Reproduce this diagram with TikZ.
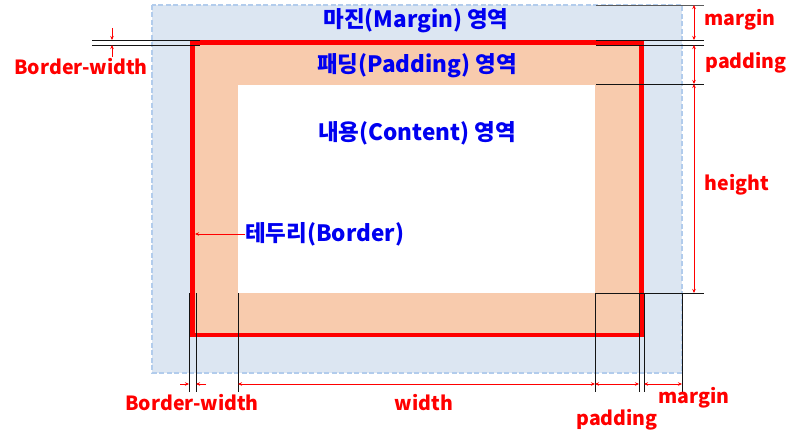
\documentclass[tikz,border=0pt]{standalone}
\usepackage{fontspec}
\setmainfont{Noto Sans CJK KR}
\usetikzlibrary{arrows.meta}
\definecolor{marginfill}{RGB}{220,230,242}
\definecolor{margindash}{RGB}{178,204,236}
\definecolor{padfill}{RGB}{248,203,173}
\definecolor{bordred}{RGB}{255,0,0}
\definecolor{areablue}{RGB}{0,0,240}
\definecolor{dimgrey}{RGB}{20,20,20}
\tikzset{
  dimline/.style={dimgrey, line width=0.9pt},
  dimarrow/.style={bordred, line width=0.8pt, {Stealth[length=4pt,width=3.5pt]}-{Stealth[length=4pt,width=3.5pt]}},
  onearrow/.style={bordred, line width=0.8pt, -{Stealth[length=4pt,width=3.5pt]}},
  redlbl/.style={text=bordred, inner sep=0pt, font=\bfseries\fontsize{19.5}{21}\selectfont},
  bluelbl/.style={text=areablue, inner sep=0pt, font=\bfseries\fontsize{22.5}{24}\selectfont},
}
\begin{document}
\begin{tikzpicture}[x=1pt,y=-1pt]
\useasboundingbox (0,0) rectangle (800,444);
% areas
\fill[marginfill] (152,5) rectangle (682,373);
\draw[margindash, line width=1.6pt, dash pattern=on 5pt off 2.5pt] (152,5) rectangle (682,373);
\fill[padfill] (192.5,42.5) rectangle (641.5,335);
\fill[white] (238,85) rectangle (595,293);
\draw[bordred, line width=4.5pt] (192.5,42.5) rectangle (641.5,335);

% coordinates
\coordinate (tlA) at (92,40);  \coordinate (tlB) at (200,40);
\coordinate (tlC) at (92,45);  \coordinate (tlD) at (200,45);
\coordinate (trA) at (596,5);  \coordinate (trB) at (704,5);
\coordinate (trC) at (596,40); \coordinate (trD) at (704,40);
\coordinate (trE) at (596,45); \coordinate (trF) at (704,45);
\coordinate (trG) at (596,84); \coordinate (trH) at (704,84);
\coordinate (trI) at (595,293); \coordinate (trJ) at (704,293);
\foreach \x/\n in {189/a,196/b,238/c,595/d,639/e,644/f,682/g}{
  \coordinate (v\n1) at (\x,293);
  \coordinate (v\n2) at (\x,392);
}
% black extension lines
\draw[dimline] (tlA) -- (tlB);
\draw[dimline] (tlC) -- (tlD);
\draw[dimline, dimgrey!70] (trA) -- (trB);
\draw[dimline] (trC) -- (trD);
\draw[dimline] (trE) -- (trF);
\draw[dimline] (trG) -- (trH);
\draw[dimline] (trI) -- (trJ);
\foreach \n in {a,b,c,d,e,f,g}{ \draw[dimline] (v\n1) -- (v\n2); }

% right dimension arrows
\coordinate (r1) at (694,5);  \coordinate (r2) at (694,40);
\coordinate (r3) at (694,45); \coordinate (r4) at (694,84);
\coordinate (r5) at (694,293);
\draw[dimarrow] (r1) -- (r2);
\draw[dimarrow] (r3) -- (r4);
\draw[dimarrow] (r4) -- (r5);

% top-left border width arrows
\coordinate (bw1) at (112,28); \coordinate (bw2) at (112,40);
\coordinate (bw3) at (112,57); \coordinate (bw4) at (112,45);
\draw[onearrow] (bw1) -- (bw2);
\draw[onearrow] (bw3) -- (bw4);

% bottom arrows
\coordinate (b1) at (180,384); \coordinate (b2) at (189,384);
\coordinate (b3) at (206,384); \coordinate (b4) at (196,384);
\coordinate (b5) at (238,384); \coordinate (b6) at (595,384);
\coordinate (b7) at (639,384); \coordinate (b8) at (644,384);
\coordinate (b9) at (682,384);
\draw[onearrow] (b1) -- (b2);
\draw[onearrow] (b3) -- (b4);
\draw[dimarrow] (b5) -- (b6);
\draw[dimarrow] (b6) -- (b7);
\draw[dimarrow] (b8) -- (b9);

% labels
\node[bluelbl] (mtitle) at (416,21) {마진(Margin) 영역};
\node[bluelbl] (ptitle) at (417,66) {패딩(Padding) 영역};
\node[bluelbl] (ctitle) at (417,133) {내용(Content) 영역};
\node[bluelbl, anchor=west] (btitle) at (245,234) {테두리(Border)};
\coordinate (bordpt) at (195,234);
\draw[onearrow] (btitle.west) -- (bordpt);

\node[redlbl] (lmarg) at (740,20) {margin};
\node[redlbl] (lpad) at (746,63) {padding};
\node[redlbl] (lheight) at (737,185) {height};
\node[redlbl] (lbwtop) at (81,67) {Border-width};
\node[redlbl] (lbwbot) at (192,403) {Border-width};
\node[redlbl] (lwidth) at (424,403) {width};
\node[redlbl] (lpadb) at (617,420) {padding};
\node[redlbl] (lmargb) at (694,398) {margin};
\end{tikzpicture}
\end{document}
